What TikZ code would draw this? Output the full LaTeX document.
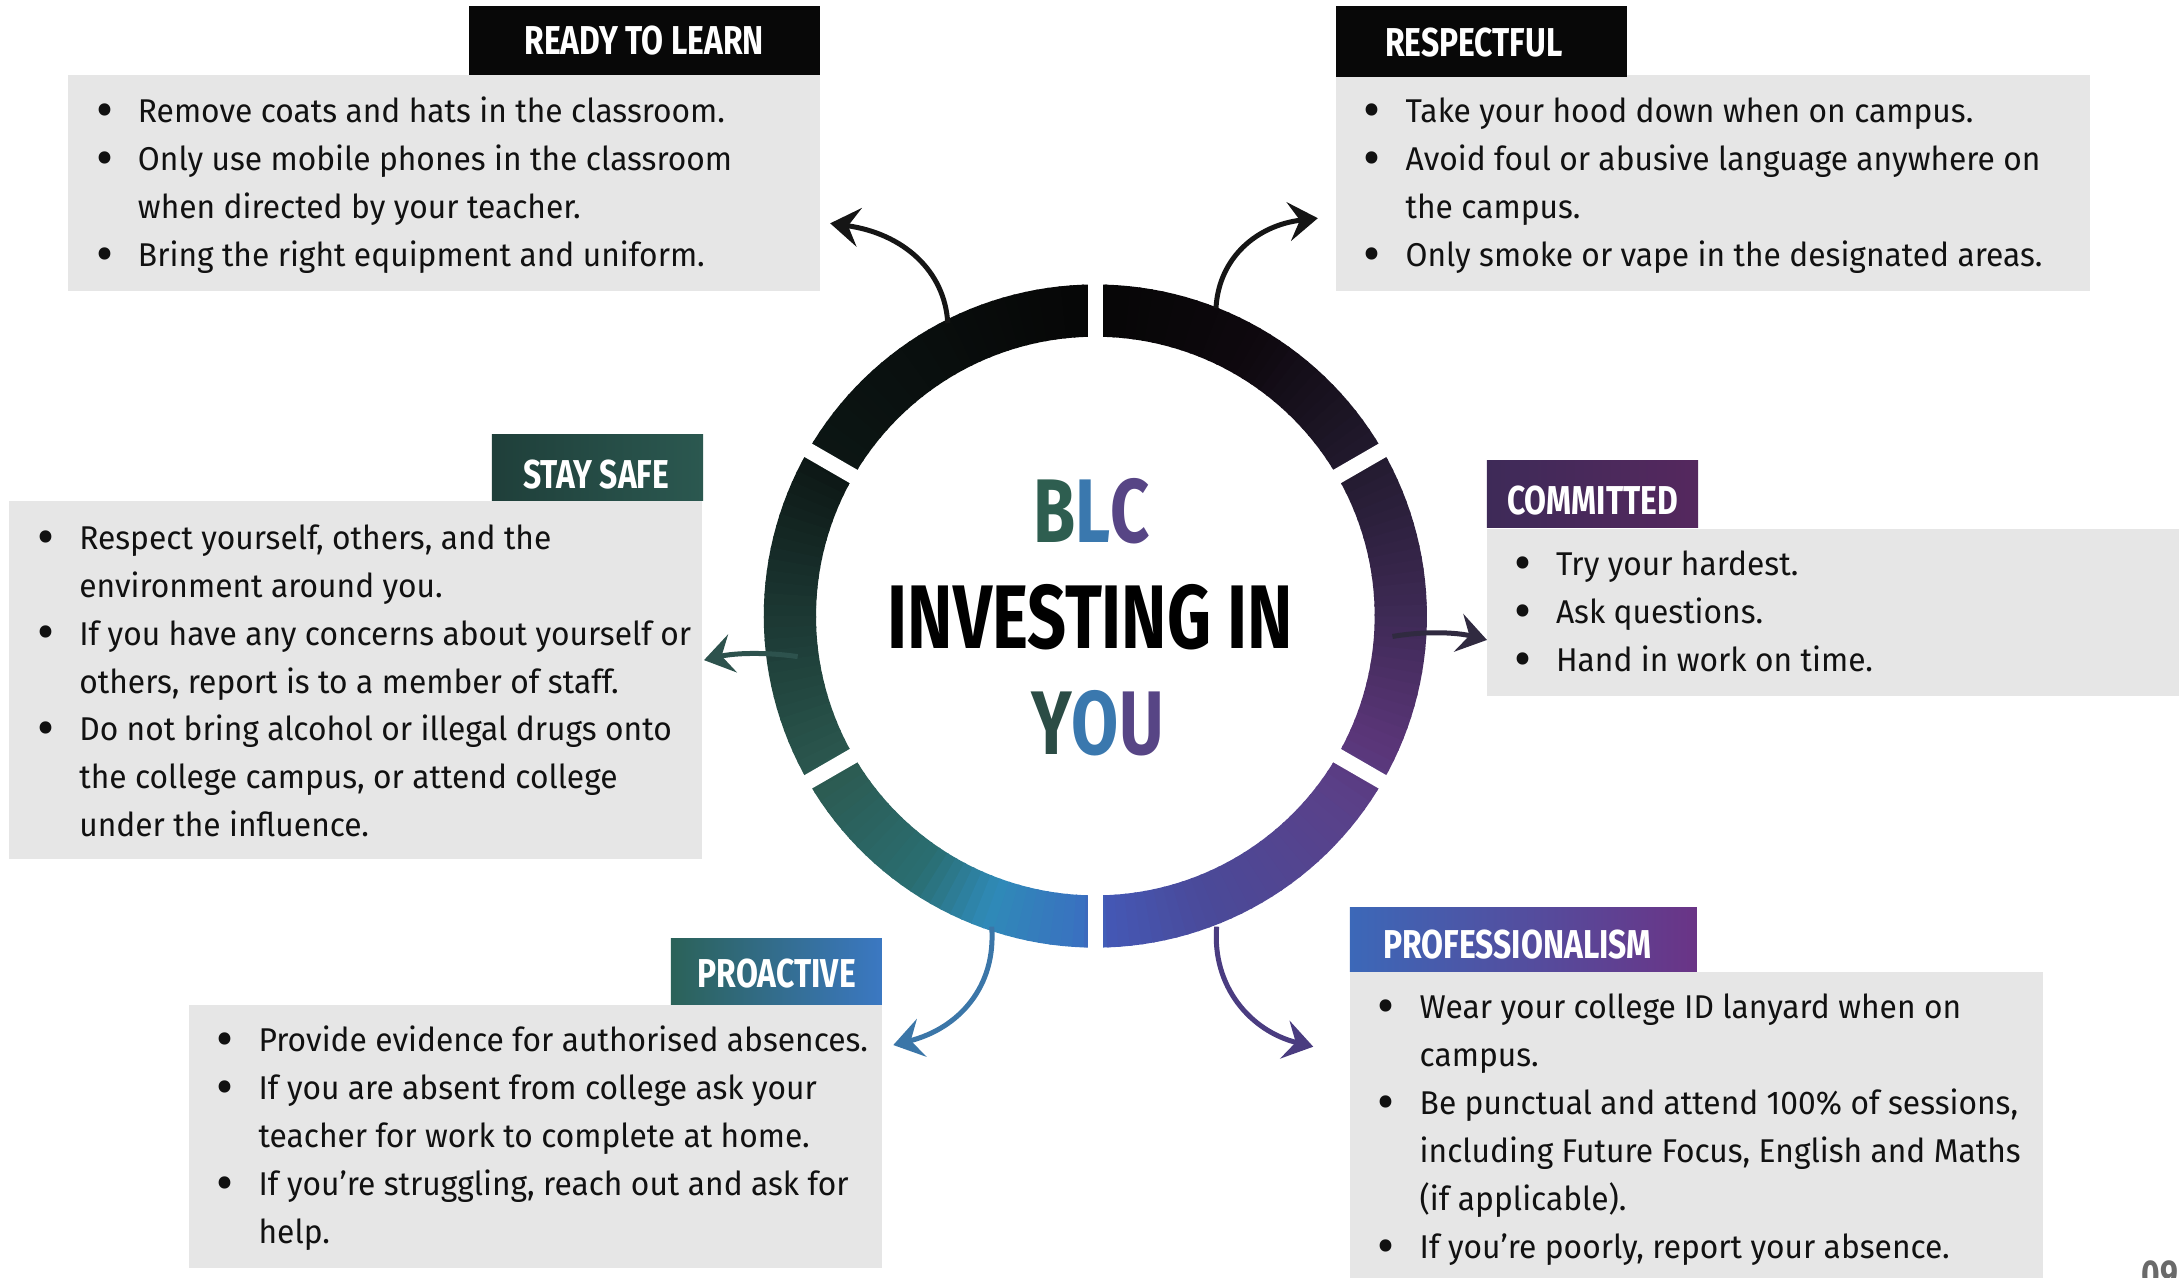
\documentclass[tikz,border=0pt]{standalone}
\usepackage{fontspec}
\setmainfont{Fira Sans}[FakeStretch=0.964]
\newfontfamily\headfont{Fira Sans}[FakeStretch=0.79]
\newfontfamily\titlefont{Fira Sans}[FakeStretch=0.757]
\usetikzlibrary{arrows.meta,shadings}

\definecolor{boxgray}{HTML}{E6E6E6}
\definecolor{txt}{HTML}{111111}
\definecolor{hdblack}{HTML}{080808}
\definecolor{safeA}{HTML}{1F3F3A}\definecolor{safeB}{HTML}{2B5850}
\definecolor{comA}{HTML}{3E2A58}\definecolor{comB}{HTML}{55285E}
\definecolor{proA}{HTML}{2B6258}\definecolor{proB}{HTML}{3B78C2}
\definecolor{profA}{HTML}{3C68B8}\definecolor{profB}{HTML}{6A3486}
\definecolor{cGreen}{HTML}{2E5E50}\definecolor{cGreenD}{HTML}{2B4C45}
\definecolor{cBlue}{HTML}{3A78AE}\definecolor{cPurple}{HTML}{574585}
\definecolor{arBlack}{HTML}{151515}\definecolor{arGreen}{HTML}{2D524D}
\definecolor{arPurpleD}{HTML}{302A40}\definecolor{arBlue}{HTML}{3B76A8}
\definecolor{arPurple}{HTML}{4A3C80}\definecolor{pagegray}{HTML}{6A6A6A}
% ring stops
\definecolor{r0}{HTML}{060606}\definecolor{r1}{HTML}{0C1614}
\definecolor{r2}{HTML}{1C3833}\definecolor{r3}{HTML}{2C5B52}
\definecolor{r4}{HTML}{2A6E72}\definecolor{r5}{HTML}{2F8AB8}
\definecolor{r6}{HTML}{3A70C0}\definecolor{r7}{HTML}{4458B5}
\definecolor{r8}{HTML}{4A4A9A}\definecolor{r9}{HTML}{5A4088}
\definecolor{r10}{HTML}{5A3578}\definecolor{r11}{HTML}{3E2A55}
\definecolor{r12}{HTML}{221A2E}\definecolor{r13}{HTML}{0E080E}

\newcommand\bul{\makebox[0pt]{\smash{\raisebox{-4.2pt}{\scalebox{1.65}{\textbullet}}}}\hspace{24pt}}
\newcommand\ind{\hspace*{24pt}}

\tikzset{
  bodybox/.style={fill=boxgray, inner sep=0pt, outer sep=0pt, anchor=north west},
  headbox/.style={inner sep=0pt, outer sep=0pt, anchor=north west},
  headlabel/.style={text=white, inner sep=0pt, font=\headfont\bfseries\fontsize{29}{29}\selectfont},
  bodytext/.style={text=txt, inner sep=0pt, anchor=base west, font=\fontsize{23.7}{34.5}\selectfont},
  titletext/.style={inner sep=0pt, font=\titlefont\bfseries\fontsize{65}{65}\selectfont},
  conn/.style={line width=3.6pt, -{Stealth[length=21pt,width=28pt,inset=8pt]}},
}

\begin{document}
\begin{tikzpicture}[x=1pt,y=-1pt]
\useasboundingbox (0,0) rectangle (1568,919);
\clip (0,0) rectangle (1568,919);

% ---------- boxes ----------
\node[bodybox, minimum width=541.2pt, minimum height=155.2pt] (b1) at (48.7,54) {};
\node[headbox, fill=hdblack, minimum width=252.4pt, minimum height=49.7pt] (h1) at (337.5,4.3) {};

\node[bodybox, minimum width=542.9pt, minimum height=155.2pt] (b2) at (961.3,54) {};
\node[headbox, fill=hdblack, minimum width=209.3pt, minimum height=50.9pt] (h2) at (961.3,4.3) {};

\node[bodybox, minimum width=498.6pt, minimum height=257.7pt] (b3) at (6.6,360.3) {};
\node[headbox, left color=safeA, right color=safeB, minimum width=152pt, minimum height=48pt] (h3) at (353.9,312.3) {};

\node[bodybox, minimum width=500pt, minimum height=120.6pt] (b4) at (1070,380.5) {};
\node[headbox, left color=comA, right color=comB, minimum width=152pt, minimum height=48.2pt] (h4) at (1070,331.5) {};

\node[bodybox, minimum width=498.6pt, minimum height=189.6pt] (b5) at (135.9,723) {};
\node[headbox, left color=proA, right color=proB, minimum width=151.7pt, minimum height=48pt] (h5) at (482.8,675) {};

\node[bodybox, minimum width=498.6pt, minimum height=226pt] (b6) at (971.3,699.2) {};
\node[headbox, left color=profA, right color=profB, minimum width=249.7pt, minimum height=46.5pt] (h6) at (971.3,652.7) {};

% ---------- ring ----------
\coordinate (ringc) at (788.2,443.3);
\begin{scope}[shift={(ringc)}, yscale=-1]
\foreach \a/\b/\ca/\cb in {90/150/r0/r1, 150/180/r1/r2, 180/212/r2/r3, 212/236/r3/r4,
  236/250/r4/r5, 250/268/r5/r6, 268/272/r6/r7, 272/290/r7/r8, 290/324/r8/r9,
  324/336/r9/r10, 336/360/r10/r11, 360/390/r11/r12, 390/420/r12/r13, 420/450/r13/r0}{
  \pgfmathtruncatemacro\N{(\b-\a)/2}
  \foreach \i in {1,...,\N}{
    \pgfmathsetmacro\ta{\a+2*(\i-1)}
    \pgfmathsetmacro\tb{\ta+2.4}
    \pgfmathtruncatemacro\p{100*(\i-0.5)/\N}
    \fill[\cb!\p!\ca] (\ta:238.6) arc[start angle=\ta, end angle=\tb, radius=238.6]
      -- (\tb:201) arc[start angle=\tb, end angle=\ta, radius=201] -- cycle;
  }
}
\foreach \g in {90,30,-30,-90,-150,150}
  \draw[white, line width=11pt] (\g:195) -- (\g:245);
\end{scope}

% ---------- centre title ----------
\node[titletext] (blc) at (785.5,368) {\textcolor{cGreen}{B}\textcolor{cBlue}{L}\textcolor{cPurple}{C}};
\node[titletext, text=black] (inv) at (784.6,444.1) {INVESTING IN};
\node[titletext] (you) at (789.7,520.2) {\textcolor{cGreenD}{Y}\textcolor{cBlue}{O}\textcolor{cPurple}{U}};

% ---------- connectors ----------
\coordinate (a1s) at (682,232.6);   \coordinate (a1e) at (597.4,160.7);
\coordinate (a2s) at (875,221.8);   \coordinate (a2e) at (948.3,157);
\coordinate (a3s) at (574,472.5);   \coordinate (a3e) at (506.6,475);
\coordinate (a4s) at (1002,458);    \coordinate (a4e) at (1070,460.5);
\coordinate (a5s) at (713.6,666.8); \coordinate (a5e) at (642.8,752);
\coordinate (a6s) at (875.5,666.8); \coordinate (a6e) at (945,753.2);
\draw[conn, draw=arBlack] (a1s) .. controls (680,195) and (650,168) .. (a1e);
\draw[conn, draw=arBlack] (a2s) .. controls (877,185) and (905,162) .. (a2e);
\draw[conn, draw=arGreen] (a3s) .. controls (550,469) and (528,470) .. (a3e);
\draw[conn, draw=arPurpleD] (a4s) .. controls (1025,454) and (1048,455) .. (a4e);
\draw[conn, draw=arBlue] (a5s) .. controls (717,710) and (690,740) .. (a5e);
\draw[conn, draw=arPurple] (a6s) .. controls (872,710) and (900,742) .. (a6e);

% ---------- header labels ----------
\node[headlabel] (l1) at (463.5,29.2) {READY TO LEARN};
\node[headlabel] (l2) at (1060.5,30.3) {RESPECTFUL};
\node[headlabel] (l3) at (429,341.5) {STAY SAFE};
\node[headlabel] (l4) at (1146,360) {COMMITTED};
\node[headlabel] (l5) at (559,700.5) {PROACTIVE};
\node[headlabel] (l6) at (1092,680) {PROFESSIONALISM};

% ---------- body texts ----------
\node[bodytext] (t1) at (75.1,88.3) {\begin{tabular}[t]{@{}l@{}}
\bul Remove coats and hats in the classroom.\\
\bul Only use mobile phones in the classroom\\
\ind when directed by your teacher.\\
\bul Bring the right equipment and uniform.
\end{tabular}};

\node[bodytext] (t2) at (987.3,88.3) {\begin{tabular}[t]{@{}l@{}}
\bul Take your hood down when on campus.\\
\bul Avoid foul or abusive language anywhere on\\
\ind the campus.\\
\bul Only smoke or vape in the designated areas.
\end{tabular}};

\node[bodytext] (t3) at (32.9,395.2) {\begin{tabular}[t]{@{}l@{}}
\bul Respect yourself, others, and the\\
\ind environment around you.\\
\bul If you have any concerns about yourself or\\
\ind others, report is to a member of staff.\\
\bul Do not bring alcohol or illegal drugs onto\\
\ind the college campus, or attend college\\
\ind under the influence.
\end{tabular}};

\node[bodytext] (t4) at (1095.5,414) {\begin{tabular}[t]{@{}l@{}}
\bul Try your hardest.\\
\bul Ask questions.\\
\bul Hand in work on time.
\end{tabular}};

\node[bodytext] (t5) at (161.9,756.9) {\begin{tabular}[t]{@{}l@{}}
\bul Provide evidence for authorised absences.\\
\bul If you are absent from college ask your\\
\ind teacher for work to complete at home.\\
\bul If you’re struggling, reach out and ask for\\
\ind help.
\end{tabular}};

\node[bodytext] (t6) at (997.4,732.9) {\begin{tabular}[t]{@{}l@{}}
\bul Wear your college ID lanyard when on\\
\ind campus.\\
\bul Be punctual and attend 100\% of sessions,\\
\ind including Future Focus, English and Maths\\
\ind (if applicable).\\
\bul If you’re poorly, report your absence.
\end{tabular}};

% ---------- page number ----------
\node[anchor=north west, inner sep=0pt, text=pagegray, font=\headfont\bfseries\fontsize{29}{29}\selectfont] (pg) at (1541,906.7) {09};
\end{tikzpicture}
\end{document}
